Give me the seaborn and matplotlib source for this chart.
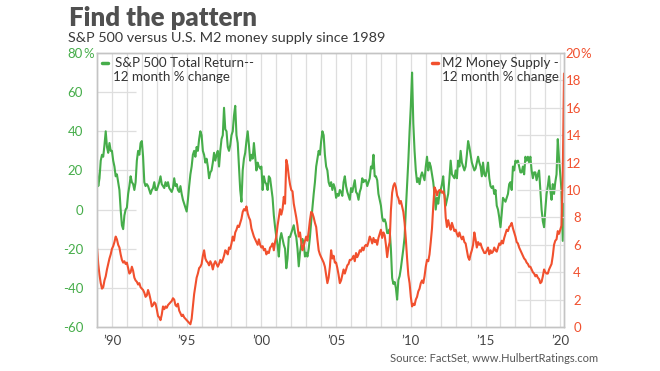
import numpy as np
import pandas as pd
import matplotlib.pyplot as plt
from matplotlib.lines import Line2D
import seaborn as sns

sns.set_theme(style="white")
plt.rcParams["font.family"] = ["Lato", "DejaVu Sans"]

# monthly readings, Jan 1989 .. Apr 2020
sp500_pct = [
    20, 12, 16, 25, 28, 27, 33, 40, 32, 29, 34, 30,      # 1989
    30, 25, 22, 17, 18, 14, 10, 0, -8, -10, -3, 0,       # 1990
    1, 8, 12, 17, 14, 13, 10, 14, 25, 30, 28, 34,        # 1991
    35, 27, 14, 12, 13, 12, 10, 8, 10, 11, 14, 10,       # 1992
    10, 12, 14, 17, 13, 12, 11, 14, 12, 14, 11, 10,      # 1993
    9, 11, 16, 12, 13, 10, 9, 12, 8, 5, 3, 1,            # 1994
    -1, 5, 12, 18, 22, 28, 30, 27, 32, 30, 36, 40,       # 1995
    38, 30, 28, 24, 26, 22, 16, 19, 20, 24, 29, 25,      # 1996
    28, 30, 22, 30, 36, 38, 52, 41, 40, 32, 30, 33,      # 1997
    38, 40, 48, 53, 38, 34, 22, 10, 4, 20, 26, 29,       # 1998
    35, 40, 33, 25, 28, 26, 34, 27, 20, 24, 22, 21,      # 1999
    22, 10, 17, 14, 13, 10, 17, 16, 11, 6, -3, -9,       # 2000
    -14, -18, -24, -15, -12, -15, -18, -20, -30, -25, -14, -14,  # 2001
    -12, -10, -8, -12, -14, -20, -29, -22, -18, -15, -17, -24,   # 2002
    -22, -24, -20, -14, -6, 1, 8, 14, 22, 26, 30, 28,    # 2003
    35, 40, 38, 28, 22, 20, 14, 12, 14, 10, 13, 11,      # 2004
    6, 8, 7, 10, 9, 7, 14, 17, 12, 9, 7, 5,              # 2005
    11, 9, 12, 15, 9, 8, 5, 9, 11, 16, 14, 15,           # 2006
    15, 12, 14, 16, 22, 21, 28, 17, 17, 15, 8, 5,        # 2007
    2, -4, -6, -5, -7, -12, -12, -10, -20, -35, -38, -37,  # 2008
    -40, -46, -36, -34, -30, -25, -20, -14, 0, 12, 25, 40,  # 2009
    53, 70, 44, 30, 20, 14, 16, 13, 17, 19, 17, 15,      # 2010
    22, 27, 20, 24, 22, 18, 14, 8, 0, 6, 3, 8,           # 2011
    10, 13, 17, 8, 2, 5, 8, 16, 25, 18, 17, 16,          # 2012
    20, 16, 25, 22, 30, 24, 22, 20, 22, 28, 35, 32,      # 2013
    28, 24, 22, 20, 21, 24, 27, 24, 22, 17, 24, 18,      # 2014
    17, 20, 24, 16, 12, 11, 12, 8, 10, 2, 0, -4,         # 2015
    -9, -2, 6, 5, 4, 6, 8, 13, 14, 10, 22, 20,           # 2016
    25, 24, 25, 22, 19, 19, 22, 18, 27, 25, 27, 24,      # 2017
    27, 20, 16, 19, 19, 15, 18, 20, 10, 0, -6, -9,       # 2018
    0, 8, 12, 17, 10, 5, 13, 8, 14, 18, 36, 26,          # 2019
    18, 10, -16, 3,                                      # 2020
]

m2_pct = [
    5.8, 4.6, 3.8, 3.2, 2.8, 2.9, 3.4, 3.7, 4.2, 4.6, 5.0, 5.3,   # 1989
    5.7, 5.9, 6.2, 6.6, 6.4, 6.0, 5.8, 5.3, 4.9, 4.7, 4.8, 4.6,   # 1990
    4.7, 4.3, 3.9, 4.0, 4.4, 4.1, 3.6, 3.4, 3.3, 3.1, 3.2, 2.9,   # 1991
    2.8, 2.7, 2.5, 2.2, 2.3, 2.7, 2.4, 2.0, 1.5, 1.6, 1.8, 1.7,   # 1992
    1.3, 0.8, 0.7, 0.5, 0.9, 1.5, 1.3, 1.5, 1.4, 1.6, 1.7, 1.8,   # 1993
    1.9, 2.1, 2.0, 1.6, 1.5, 1.7, 1.2, 1.0, 0.8, 0.9, 0.7, 0.6,   # 1994
    0.5, 0.4, 0.3, 0.2, 0.6, 1.5, 2.4, 3.0, 3.6, 3.9, 4.3, 4.4,   # 1995
    4.6, 5.2, 5.6, 5.0, 4.8, 4.7, 4.5, 4.8, 4.6, 4.2, 4.6, 4.8,   # 1996
    4.6, 4.4, 4.6, 4.9, 4.7, 4.9, 5.2, 5.6, 5.5, 5.3, 5.8, 5.7,   # 1997
    6.1, 6.6, 6.3, 6.9, 7.1, 7.4, 7.3, 7.6, 7.9, 8.4, 8.6, 8.5,   # 1998
    8.8, 8.3, 8.0, 7.8, 7.2, 6.9, 6.6, 6.4, 6.2, 6.0, 6.4, 6.0,   # 1999
    5.8, 5.9, 5.6, 5.7, 5.3, 5.5, 5.4, 5.8, 5.9, 6.1, 5.6, 6.2,   # 2000
    6.6, 7.4, 8.0, 8.6, 8.2, 8.6, 9.5, 9.0, 12.2, 11.8, 11.0, 10.4,  # 2001
    10.0, 9.9, 9.0, 8.5, 8.0, 7.4, 6.6, 6.9, 6.2, 5.6, 5.9, 6.3,  # 2002
    6.6, 6.3, 7.0, 7.8, 8.4, 8.3, 8.0, 7.6, 7.3, 6.4, 5.6, 5.3,   # 2003
    5.1, 4.9, 4.7, 4.4, 3.8, 3.2, 3.6, 4.4, 5.6, 5.0, 5.2, 4.7,   # 2004
    4.7, 4.3, 3.8, 3.2, 3.4, 3.8, 4.2, 3.9, 4.2, 4.5, 4.6, 4.9,   # 2005
    4.9, 5.0, 5.2, 4.8, 5.4, 5.1, 5.3, 5.6, 5.5, 5.8, 5.6, 5.9,   # 2006
    6.0, 5.9, 6.2, 6.6, 6.4, 6.1, 6.5, 6.2, 6.35, 6.0, 6.5, 6.8,  # 2007
    7.1, 6.5, 6.9, 6.7, 6.0, 5.1, 5.8, 6.2, 8.5, 9.8, 10.3, 10.5,  # 2008
    10.2, 9.6, 9.4, 9.0, 9.2, 8.8, 8.4, 7.6, 6.4, 5.0, 3.8, 3.2,  # 2009
    2.2, 1.5, 1.7, 1.6, 2.0, 2.2, 2.6, 2.8, 3.2, 3.4, 3.2, 3.7,   # 2010
    4.4, 4.9, 4.8, 5.3, 6.2, 7.2, 8.8, 10.2, 10.0, 9.6, 9.9, 10.0,  # 2011
    10.0, 9.8, 9.9, 9.6, 8.0, 7.3, 7.8, 7.4, 7.1, 7.6, 7.3, 7.0,  # 2012
    7.1, 6.8, 6.6, 6.9, 6.6, 6.4, 6.6, 6.2, 6.1, 5.6, 5.1, 4.9,   # 2013
    5.3, 5.6, 6.0, 6.9, 6.4, 5.8, 6.2, 6.0, 6.1, 5.8, 5.6, 5.4,   # 2014
    5.4, 5.6, 5.8, 5.3, 5.6, 5.4, 5.5, 5.8, 5.6, 5.5, 5.8, 6.1,   # 2015
    6.0, 6.3, 6.1, 6.5, 6.8, 7.1, 7.0, 7.3, 7.4, 7.6, 7.2, 6.9,   # 2016
    6.6, 6.2, 6.1, 5.8, 5.6, 5.4, 5.2, 5.0, 4.9, 4.7, 4.6, 4.4,   # 2017
    4.4, 4.2, 4.0, 3.9, 3.7, 3.8, 3.6, 3.5, 3.2, 3.3, 3.7, 4.2,   # 2018
    4.0, 3.9, 3.9, 4.2, 4.4, 4.6, 5.2, 6.0, 6.3, 6.4, 7.0, 6.8,   # 2019
    7.1, 7.4, 11.0, 18.5,                                          # 2020
]

year_ticks = [1990, 1995, 2000, 2005, 2010, 2015, 2020]
year_labels = ["’90", "’95", "’00", "’05", "’10", "’15", "’20"]
left_ticks = [-60, -40, -20, 0, 20, 40, 60, 80]
right_ticks = [0, 2, 4, 6, 8, 10, 12, 14, 16, 18, 20]

GREEN = "#46ad4a"
RED = "#f1502e"
GRID = "#dedede"

df = pd.DataFrame({
    "year": 1989 + np.arange(len(sp500_pct)) / 12,
    "sp500": sp500_pct,
    "m2": m2_pct,
})

fig = plt.figure(figsize=(6.6, 3.71), dpi=100)
ax = fig.add_subplot(111)
fig.subplots_adjust(left=97 / 660, right=564 / 660, top=1 - 53 / 371, bottom=1 - 327 / 371)
ax2 = ax.twinx()

# yearly vertical grid + stubby horizontal grid bits
for yr in range(1990, 2021):
    ax.axvline(yr, color=GRID, lw=0.9, zorder=0)
ax.hlines(left_ticks[1:-1], 1989.0, 1991.6, color=GRID, lw=0.9, zorder=0)
ax2.hlines(right_ticks[1:-1], 2017.1, 2020.3, color=GRID, lw=0.9, zorder=0)

sns.lineplot(data=df, x="year", y="sp500", ax=ax, color=GREEN, lw=1.5)
sns.lineplot(data=df, x="year", y="m2", ax=ax2, color=RED, lw=1.5)

ax.set_xlim(1989.0, 2020.25)
ax.set_ylim(-60, 80)
ax2.set_ylim(0, 20)
ax.set_xlabel("")
ax.set_ylabel("")
ax2.set_ylabel("")

ax.set_xticks(year_ticks)
ax.set_xticklabels(year_labels)
ax.set_yticks(left_ticks)
ax.set_yticklabels([str(v) for v in left_ticks])
ax2.set_yticks(right_ticks)
ax2.set_yticklabels([str(v) for v in right_ticks], ha="right")

ax.tick_params(axis="x", length=0, pad=6, labelsize=9.5, labelcolor="#444444")
ax.tick_params(axis="y", length=0, pad=10, labelsize=9.5, labelcolor=GREEN)
ax2.tick_params(axis="y", length=0, pad=12.2, labelsize=9.5, labelcolor=RED)

ax.annotate("%", xy=(0, 80), xycoords=ax.get_yaxis_transform(), xytext=(-9.6, 0),
            textcoords="offset points", ha="left", va="center_baseline",
            fontsize=9.5, color=GREEN)
ax2.annotate("%", xy=(1, 20), xycoords=ax2.get_yaxis_transform(), xytext=(11.7, 0),
             textcoords="offset points", ha="left", va="center_baseline",
             fontsize=9.5, color=RED)

for a in (ax, ax2):
    for s in a.spines.values():
        s.set_color("#c4c4c4")
        s.set_linewidth(1)

# legend text blocks
def px(x, y):
    return x / 660, 1 - y / 371

fig.add_artist(Line2D([102 / 660, 108 / 660], [px(0, 63)[1]] * 2, color=GREEN, lw=2.5,
                      transform=fig.transFigure))
fig.text(*px(115, 63), "S&P 500 Total Return--", fontsize=9.6, color="#333333", va="center")
fig.text(*px(113, 77), "12 month % change", fontsize=9.6, color="#333333", va="center")
fig.add_artist(Line2D([432 / 660, 438 / 660], [px(0, 63)[1]] * 2, color=RED, lw=2.5,
                      transform=fig.transFigure))
fig.text(*px(442, 63), "M2 Money Supply -", fontsize=9.6, color="#333333", va="center")
fig.text(*px(442, 77), "12 month % change", fontsize=9.6, color="#333333", va="center")

fig.text(*px(69, 26), "Find the pattern", fontsize=18.5, fontweight="heavy",
         color="#505050", va="baseline")
fig.text(*px(68, 41.7), "S&P 500 versus U.S. M2 money supply since 1989", fontsize=10.4,
         color="#3a3a3a", va="baseline")
fig.text(*px(598, 358), "Source: FactSet, www.HulbertRatings.com", fontsize=8,
         color="#555555", ha="right", va="center")

fig.savefig("out.png", dpi=100)
